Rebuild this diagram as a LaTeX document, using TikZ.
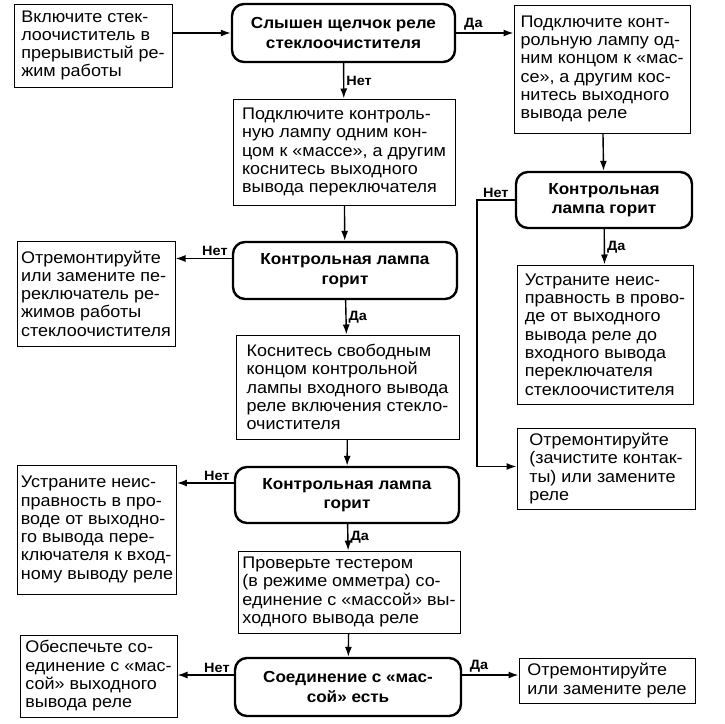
\documentclass[tikz,border=0pt]{standalone}
\usepackage{fontspec}
\setmainfont{Liberation Sans}[FakeStretch=1.07]
\usetikzlibrary{arrows.meta}

\begin{document}
\begin{tikzpicture}[x=1pt,y=-1pt,
  >={Latex[length=10pt,width=7pt]},
  action/.style={draw,line width=1pt,align=left,font=\fontsize{16.8}{18.3}\selectfont},
  check/.style={draw,line width=2.4pt,rounded corners=12pt,align=center,font=\fontsize{16}{19.5}\selectfont\bfseries},
  lbl/.style={font=\fontsize{13.5}{14}\selectfont\bfseries,inner sep=2pt},
  link/.style={->,line width=1.4pt}]
\useasboundingbox (0,0) rectangle (725,723);

% left column
\node [action,minimum width=158pt,minimum height=83pt] (start) at (93,45.5)
  {Включите стек-\\лоочиститель в\\прерывистый ре-\\жим работы};
\node [action,minimum width=158pt,minimum height=105pt] (fixswitch) at (96,293.5)
  {Отремонтируйте\\или замените пе-\\реключатель ре-\\жимов работы\\стеклоочистителя};
\node [action,minimum width=158pt,minimum height=129pt] (fixwire) at (97,529.5)
  {Устраните неис-\\правность в про-\\воде от выходно-\\го вывода пере-\\ключателя к вход-\\ному выводу реле};
\node [action,minimum width=157pt,minimum height=82pt] (ground) at (98.5,676)
  {Обеспечьте со-\\единение с «мас-\\сой» выходного\\вывода реле};

% middle column
\node [check,minimum width=223pt,minimum height=58pt] (click) at (343.5,33)
  {Слышен щелчок реле\\стеклоочистителя};
\node [action,minimum width=222pt,minimum height=106pt] (probeA) at (344,152)
  {Подключите контроль-\\ную лампу одним кон-\\цом к «массе», а другим\\коснитесь выходного\\вывода переключателя};
\node [check,minimum width=224pt,minimum height=57pt] (lampA) at (345,270.5)
  {Контрольная лампа\\горит};
\node [action,minimum width=223pt,minimum height=104pt] (probeB) at (347.5,387)
  {Коснитесь свободным\\концом контрольной\\лампы входного вывода\\реле включения стекло-\\очистителя};
\node [check,minimum width=224pt,minimum height=56pt] (lampB) at (347,495)
  {Контрольная лампа\\горит};
\node [action,minimum width=222pt,minimum height=82pt] (tester) at (349,592)
  {Проверьте тестером\\(в режиме омметра) со-\\единение с «массой» вы-\\ходного вывода реле};
\node [check,minimum width=226pt,minimum height=58pt] (mass) at (348,687)
  {Соединение с «мас-\\сой» есть};

% right column
\node [action,minimum width=176pt,minimum height=128pt] (probeR) at (602,69)
  {Подключите конт-\\рольную лампу од-\\ним концом к «мас-\\се», а другим кос-\\нитесь выходного\\вывода реле};
\node [check,minimum width=176pt,minimum height=56pt] (lampR) at (604,200)
  {Контрольная\\лампа горит};
\node [action,minimum width=176pt,minimum height=139pt] (fixrelay) at (605,334.5)
  {Устраните неис-\\правность в прово-\\де от выходного\\вывода реле до\\входного вывода\\переключателя\\стеклоочистителя};
\node [action,minimum width=178pt,minimum height=81pt] (clean) at (606,468.5)
  {Отремонтируйте\\(зачистите контак-\\ты) или замените\\реле};
\node [action,minimum width=176pt,minimum height=45pt] (newrelay) at (607,680.5)
  {Отремонтируйте\\или замените реле};

\coordinate (noA) at ([yshift=12pt]lampA.west);
\coordinate (noB) at ([yshift=12pt]lampB.west);
\coordinate (noC) at ([yshift=12pt]mass.west);
\coordinate (yesC) at ([yshift=12pt]mass.east);

\draw [link] (start.east |- click) -- (click.west);
\draw [link] (click.east) -- node[lbl,above,pos=0.3] {Да} (probeR.west |- click.east);
\draw [link] (click) -- node[lbl,right] {Нет} (probeA);
\draw [link] (probeR) -- (lampR);
\draw [link] (lampR.west) -- node[lbl,above] {Нет} ++(-38,0) |- ([yshift=2pt]clean.west);
\draw [link] (lampR) -- node[lbl,right] {Да} (fixrelay);
\draw [link] (probeA) -- (lampA);
\draw [link] (noA) -- node[lbl,above,pos=0.3] {Нет} (noA -| fixswitch.east);
\draw [link] (lampA) -- node[lbl,right] {Да} (probeB);
\draw [link] (probeB) -- (lampB);
\draw [link] (noB) -- node[lbl,above,pos=0.3] {Нет} (noB -| fixwire.east);
\draw [link] (lampB) -- node[lbl,right] {Да} (tester);
\draw [link] (tester) -- (mass);
\draw [link] (noC) -- node[lbl,above,pos=0.3] {Нет} (noC -| ground.east);
\draw [link] (yesC) -- node[lbl,above,pos=0.3] {Да} (yesC -| newrelay.west);
\end{tikzpicture}
\end{document}
